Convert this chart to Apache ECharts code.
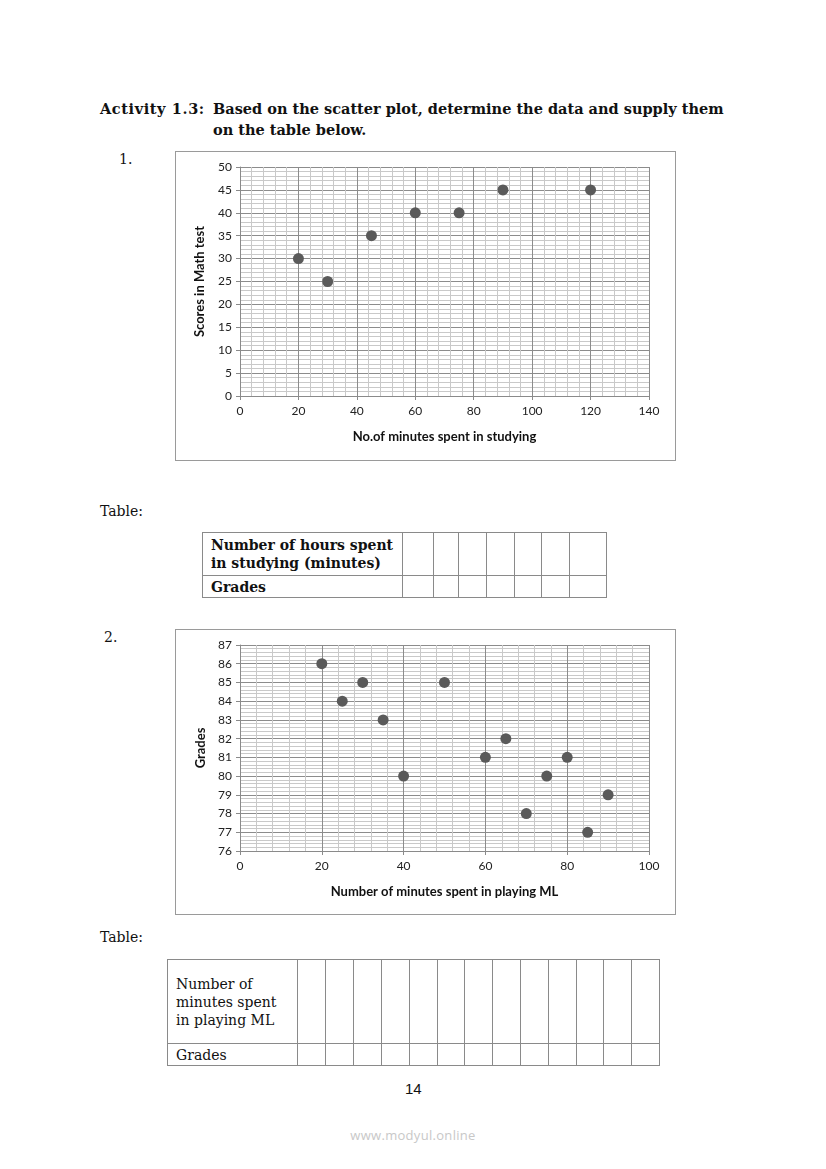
<!DOCTYPE html>
<html>
<head>
<meta charset="utf-8">
<script src="https://cdn.jsdelivr.net/npm/echarts@6/dist/echarts.min.js"></script>
<style>
  html,body{margin:0;padding:0;background:#fff;}
  body{width:826px;height:1169px;position:relative;overflow:hidden;font-family:"DejaVu Serif",serif;color:#111;}
  .abs{position:absolute;white-space:nowrap;}
  .title{font-weight:bold;font-size:14.5px;}
  .box{position:absolute;border:1px solid #9a9a9a;box-sizing:border-box;}
  .chart{position:absolute;left:0;top:0;}
  table{position:absolute;border-collapse:collapse;}
  td{border:1px solid #8a8a8a;padding:0;}
</style>
</head>
<body>
<div class="abs title" style="left:100px;top:100px;letter-spacing:0.6px;">Activity 1.3:</div>
<div class="abs title" style="left:213px;top:100px;">Based on the scatter plot, determine the data and supply them</div>
<div class="abs title" style="left:213px;top:121px;">on the table below.</div>
<div class="abs" style="left:119px;top:151px;font-size:14px;">1.</div>

<div class="box" style="left:175px;top:151px;width:501px;height:310px;">
  <div id="c1" class="chart" style="width:499px;height:308px;"></div>
</div>

<div class="abs" style="left:100px;top:503px;font-size:14px;">Table:</div>
<table id="t1" style="left:202px;top:532px;"></table>

<div class="abs" style="left:104px;top:629px;font-size:14px;">2.</div>
<div class="box" style="left:175px;top:629px;width:501px;height:286px;">
  <div id="c2" class="chart" style="width:499px;height:284px;"></div>
</div>

<div class="abs" style="left:100px;top:929px;font-size:14px;">Table:</div>
<table id="t2" style="left:167px;top:959px;"></table>

<div class="abs" style="left:405px;top:1080px;font-size:15px;font-family:'Liberation Sans',sans-serif;">14</div>
<div class="abs" style="left:0;width:826px;text-align:center;top:1126px;font-size:13px;font-family:'Open Sans',sans-serif;color:#c8c8c8;letter-spacing:0.3px;">www.modyul.online</div>

<script>
// ---- data ----
var studyMinutes = [20, 30, 45, 60, 75, 90, 120];
var mathScores   = [30, 25, 35, 40, 40, 45, 45];
var mlMinutes    = [20, 25, 30, 35, 40, 50, 60, 65, 70, 75, 80, 85, 90];
var mlGrades     = [86, 84, 85, 83, 80, 85, 81, 82, 78, 80, 81, 77, 79];
var table1Labels = ["Number of hours spent\nin studying (minutes)", "Grades"];
var table2Labels = ["Number of\nminutes spent\nin playing ML", "Grades"];

// ---- tables ----
function buildTable(id, labels, firstW, colWs, rowHs, bold){
  var t = document.getElementById(id);
  labels.forEach(function(lab, r){
    var tr = document.createElement('tr');
    var td = document.createElement('td');
    td.style.width = firstW + 'px';
    td.style.height = rowHs[r] + 'px';
    td.style.padding = '0 0 0 8px';
    td.style.boxSizing = 'border-box';
    td.style.fontSize = '14px';
    td.style.lineHeight = '18px';
    td.style.fontWeight = bold ? 'bold' : 'normal';
    td.style.whiteSpace = 'pre';
    td.style.verticalAlign = 'middle';
    td.textContent = lab;
    tr.appendChild(td);
    colWs.forEach(function(w){
      var c = document.createElement('td');
      c.style.width = w + 'px';
      c.style.boxSizing = 'border-box';
      tr.appendChild(c);
    });
    t.appendChild(tr);
  });
}
buildTable('t1', table1Labels, 200, [31,25,28,28,27,28,37], [43,22], true);
buildTable('t2', table2Labels, 130, [28,28,28,28,28,27,28,28,28,28,27,28,28], [84,22], false);

// ---- charts ----
var font = 'Lato, "Open Sans", sans-serif';
function makeOpt(xs, ys, xmin, xmax, xint, ymin, ymax, yint, xname, yname, grid, xNameGap, yNameGap){
  var pts = xs.map(function(x,i){ return [x, ys[i]]; });
  function axis(min, max, interval, name, gap, isY){
    return {
      type:'value', min:min, max:max, interval:interval,
      name:name, nameLocation:'middle', nameGap:gap,
      nameTextStyle:{fontFamily:font, fontWeight:'bold', fontSize:13, color:'#111'},
      axisLine:{show:true, lineStyle:{color:'#8a8a8a', width:1}},
      axisTick:{show:true, length:4, lineStyle:{color:'#8a8a8a'}},
      axisLabel:{fontFamily:font, fontSize:12, color:'#222', margin:isY?8:9},
      splitLine:{show:true, lineStyle:{color:'#8c8c8c', width:1}},
      minorTick:{show:false, splitNumber:5},
      minorSplitLine:{show:true, lineStyle:{color:'#c9c9c9', width:1}}
    };
  }
  return {
    animation:false,
    grid:grid,
    xAxis: axis(xmin, xmax, xint, xname, xNameGap, false),
    yAxis: axis(ymin, ymax, yint, yname, yNameGap, true),
    series:[{type:'scatter', data:pts, symbolSize:11, itemStyle:{color:'#5a5a5a', opacity:1}}]
  };
}
var c1 = echarts.init(document.getElementById('c1'));
c1.setOption(makeOpt(studyMinutes, mathScores, 0, 140, 20, 0, 50, 5,
  'No.of minutes spent in studying', 'Scores in Math test',
  {left:64, right:26, top:15, bottom:64}, 34, 34));
var c2 = echarts.init(document.getElementById('c2'));
c2.setOption(makeOpt(mlMinutes, mlGrades, 0, 100, 20, 76, 87, 1,
  'Number of minutes spent in playing ML', 'Grades',
  {left:64, right:26, top:15, bottom:63}, 34, 32));
</script>
</body>
</html>
